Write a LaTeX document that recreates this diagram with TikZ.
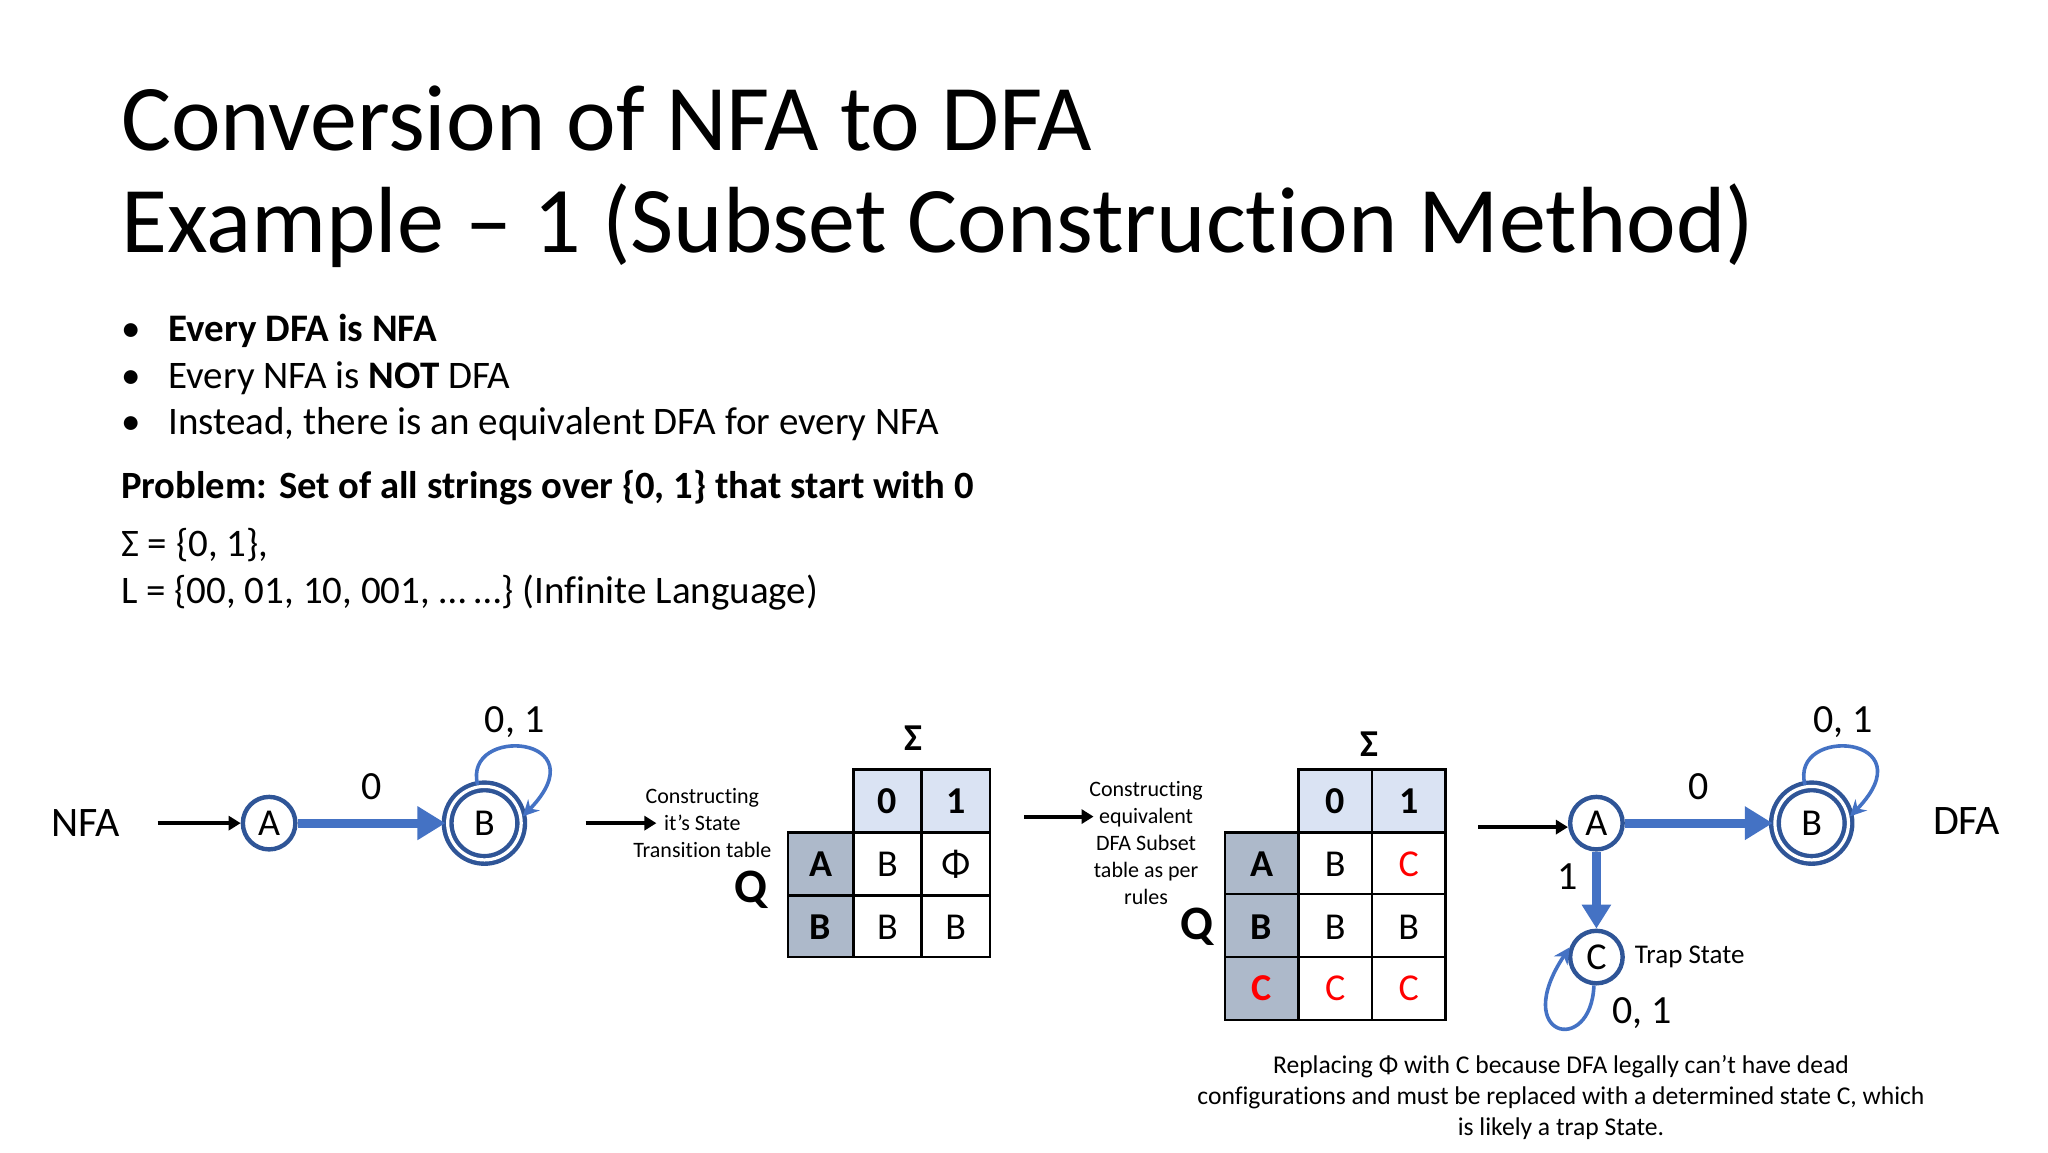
\documentclass[tikz,border=0pt]{standalone}
\usepackage{fontspec}
\setmainfont{Carlito}[Ligatures=NoCommon]
\usetikzlibrary{arrows.meta}
\definecolor{ablue}{HTML}{4472C4}
\definecolor{dblue}{HTML}{2F5597}
\definecolor{hblue}{HTML}{DAE3F3}
\definecolor{rgray}{HTML}{ADB9CA}
\definecolor{tred}{HTML}{FF0000}
\begin{document}
\begin{tikzpicture}[x=0.6564pt,y=-0.6564pt,
  st/.style={circle,draw=dblue,line width=2.2pt,minimum size=40*0.6564pt,inner sep=0pt,font=\fontsize{19}{19}\selectfont},
  acc/.style={st,double=white,double distance=1.6pt,minimum size=56*0.6564pt},
  tr/.style={ablue,line width=4.5pt,-{Triangle[length=14pt,width=16pt]}},
  lp/.style={ablue,line width=1.8pt,-{Stealth[length=8pt,width=8pt]}},
  blk/.style={black,line width=2pt,-{Triangle[length=6pt,width=7pt]}},
  lab/.style={font=\fontsize{20}{20}\selectfont,text=black},
  small/.style={font=\fontsize{11}{13.5}\selectfont,align=center},
  cell/.style={font=\fontsize{19}{19}\selectfont},
  bcell/.style={font=\bfseries\fontsize{19}{19}\selectfont}]
\useasboundingbox (0,0) rectangle (1560,878);
% title
\node[anchor=base west,font=\fontsize{47}{47}\selectfont,inner sep=0] (t1) at (92,115) {Conversion of NFA to DFA};
\node[anchor=base west,font=\fontsize{47}{47}\selectfont,inner sep=0] (t2) at (92,192) {Example – 1 (Subset Construction Method)};
% bullets
\begin{scope}[every node/.style={anchor=base west,inner sep=0,font=\fontsize{19.5}{19.5}\selectfont}]
\node (b1) at (92,260) {•}; \node (b1t) at (128,260) {\textbf{Every DFA is NFA}};
\node (b2) at (92,296) {•}; \node (b2t) at (128,296) {Every NFA is \textbf{NOT} DFA};
\node (b3) at (92,331) {•}; \node (b3t) at (128,331) {Instead, there is an equivalent DFA for every NFA};
\node[font=\bfseries\fontsize{19.3}{19.3}\selectfont] (p) at (92,380) {Problem: Set of all strings over \{0, 1\} that start with 0};
\node (s) at (92,424) {Σ = \{0, 1\},};
\node (l) at (92,460) {L = \{00, 01, 10, 001, … …\} (Infinite Language)};
\end{scope}
% NFA
\node[font=\fontsize{21}{21}\selectfont] (nfa) at (65,627) {NFA};
\node[st] (aN) at (205,627) {A};
\node[acc] (bN) at (369,627) {B};
\coordinate (sN) at (120,627);
\draw[blk] (sN) -- (aN);
\draw[tr] (aN) -- (bN) node[midway,above=6pt,lab] (l0N) {0};
\draw[lp] (bN.100) .. controls (352,552) and (458,560) .. (bN.10);
\node[lab] (l01N) at (392,550) {0, 1};
\coordinate (c1a) at (446,627); \coordinate (c1b) at (500,627);
\draw[blk] (c1a) -- (c1b);
\node[small] (txt1) at (535,627) {Constructing\\it’s State\\Transition table};
% table 1
\fill[hblue] (650,586) rectangle (754,634);
\fill[rgray] (600,634) rectangle (650,729);
\draw[line width=1.2pt] (650,586) rectangle (754,729) (600,634) rectangle (754,729)
  (702,586) -- (702,729) (650,634) -- (650,729) (600,682) -- (754,682);
\node[bcell] (sig1) at (696,562) {Σ};
\node[font=\bfseries\fontsize{24}{24}\selectfont] (q1) at (572,678) {Q};
\node[bcell] at (676,610) {0}; \node[bcell] at (728,610) {1};
\node[bcell] at (625,658) {A}; \node[cell] at (676,658) {B}; \node[cell] at (728,658) {Φ};
\node[bcell] at (625,706) {B}; \node[cell] at (676,706) {B}; \node[cell] at (728,706) {B};
\coordinate (c2a) at (780,622); \coordinate (c2b) at (833,622);
\draw[blk] (c2a) -- (c2b);
\node[small] (txt2) at (873,642) {Constructing\\equivalent\\DFA Subset\\table as per\\rules};
% table 2
\fill[hblue] (989,586) rectangle (1101,634);
\fill[rgray] (933,634) rectangle (989,777);
\draw[line width=1.2pt] (989,586) rectangle (1101,777) (933,634) rectangle (1101,777)
  (1045,586) -- (1045,777) (933,681) -- (1101,681) (933,729) -- (1101,729);
\node[bcell] (sig2) at (1043,567) {Σ};
\node[font=\bfseries\fontsize{24}{24}\selectfont] (q2) at (912,706) {Q};
\node[bcell] at (1017,610) {0}; \node[bcell] at (1073,610) {1};
\node[bcell] at (961,658) {A}; \node[cell] at (1017,658) {B}; \node[cell,tred] at (1073,658) {C};
\node[bcell] at (961,706) {B}; \node[cell] at (1017,706) {B}; \node[cell] at (1073,706) {B};
\node[bcell,tred] at (961,753) {C}; \node[cell,tred] at (1017,753) {C}; \node[cell,tred] at (1073,753) {C};
% DFA
\coordinate (sD) at (1126,630);
\node[st] (aD) at (1216,627) {A};
\node[acc] (bD) at (1380,627) {B};
\node[st] (cD) at (1216,729) {C};
\draw[blk] (sD) -- (sD -| aD.west);
\draw[tr] (aD) -- (bD) node[midway,above=6pt,lab] (l0D) {0};
\draw[ablue,line width=4.5pt,-{Triangle[length=12pt,width=14pt]}] (aD) -- (cD);
\node[lab] (l1D) at (1194,668) {1};
\draw[lp] (bD.100) .. controls (1363,552) and (1469,560) .. (bD.10);
\node[lab] (l01D) at (1404,550) {0, 1};
\node[font=\fontsize{21}{21}\selectfont] (dfa) at (1498,625) {DFA};
\node[font=\fontsize{13.5}{13.5}\selectfont,anchor=west] (trap) at (1240,729) {Trap State};
\draw[lp] (cD.265) .. controls (1212,805) and (1150,790) .. (cD.160);
\node[lab] (l01C) at (1251,772) {0, 1};
\node[font=\fontsize{12.8}{15.5}\selectfont,align=center] (cap) at (1189,836) {Replacing Φ with C because DFA legally can’t have dead\\configurations and must be replaced with a determined state C, which\\is likely a trap State.};
\end{tikzpicture}
\end{document}
